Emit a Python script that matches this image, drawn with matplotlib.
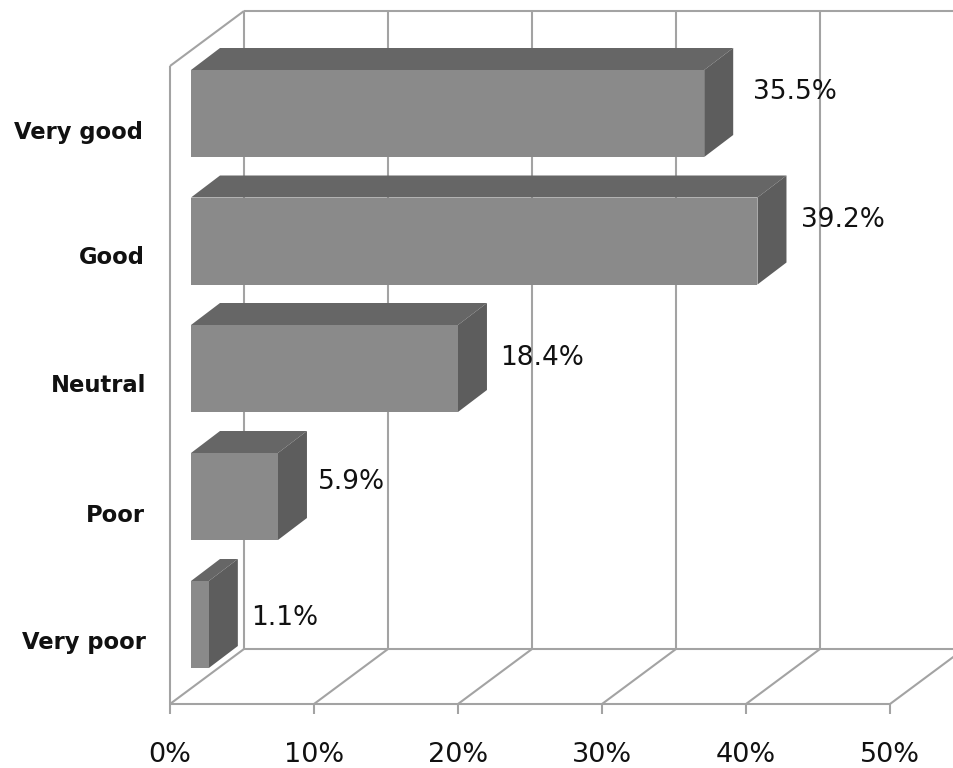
import matplotlib.pyplot as plt
from matplotlib.patches import Polygon

categories = ["Very good", "Good", "Neutral", "Poor", "Very poor"]
values = [35.5, 39.2, 18.4, 5.9, 1.1]
value_labels = ["35.5%", "39.2%", "18.4%", "5.9%", "1.1%"]
ticks = [0, 10, 20, 30, 40, 50]
tick_labels = ["0%", "10%", "20%", "30%", "40%", "50%"]

plt.rcParams['font.family'] = ['DejaVu Sans']

W, H = 954, 768
PX = 14.4            # pixels per percentage point
X0 = 170             # pixel column of 0% on the front floor edge
FLOOR = 704
TOP = 66
WALL_DX = 74 / PX    # depth of the box, in percent units
WALL_DY = 55
BAR_DX = 29 / PX
BAR_DY = 22
BAR_LEFT = 21 / PX
BAR_PAD = 23 / PX
BAR_H = 87
BAR_TOPS = [70, 197.5, 325, 453, 581]

GRID = "#a3a3a3"
FRONT = "#8a8a8a"
UPPER = "#666666"
SIDE = "#5d5d5d"

fig = plt.figure(figsize=(W / 100, H / 100), dpi=100)
ax = fig.add_axes([0, 0, 1, 1])
ax.set_xlim(-X0 / PX, (W - X0) / PX)
ax.set_ylim(H, 0)
ax.axis("off")

lw = 1.5
line = dict(color=GRID, lw=lw, zorder=1, solid_capstyle="butt")

# back wall and floor
for t in ticks:
    ax.plot([t, t + WALL_DX], [FLOOR, FLOOR - WALL_DY], **line)
    ax.plot([t, t], [FLOOR, FLOOR + 10], **line)
    if t < ticks[-1]:
        ax.plot([t + WALL_DX, t + WALL_DX], [FLOOR - WALL_DY, TOP - WALL_DY], **line)
ax.plot([0, ticks[-1]], [FLOOR, FLOOR], **line)
ax.plot([WALL_DX, ticks[-1] + WALL_DX], [FLOOR - WALL_DY, FLOOR - WALL_DY], **line)
ax.plot([WALL_DX, ticks[-1] + WALL_DX], [TOP - WALL_DY, TOP - WALL_DY], **line)
# left wall
ax.plot([0, 0], [FLOOR, TOP], **line)
ax.plot([0, WALL_DX], [TOP, TOP - WALL_DY], **line)

# 3d bars
for v, top in zip(values, BAR_TOPS):
    left = BAR_LEFT
    right = BAR_PAD + v
    bottom = top + BAR_H
    ax.add_patch(Polygon([(left, top), (right, top), (right + BAR_DX, top - BAR_DY),
                          (left + BAR_DX, top - BAR_DY)], fc=UPPER, ec="none", zorder=2))
    ax.add_patch(Polygon([(right, top), (right + BAR_DX, top - BAR_DY),
                          (right + BAR_DX, bottom - BAR_DY), (right, bottom)],
                         fc=SIDE, ec="none", zorder=2))
    ax.add_patch(Polygon([(left, top), (right, top), (right, bottom), (left, bottom)],
                         fc=FRONT, ec="none", zorder=3))

# labels
label_x = [753, 801, 500, 318, 251]
label_y = [92, 220, 358, 482, 618]
for txt, x, y in zip(value_labels, label_x, label_y):
    ax.text((x - X0) / PX, y, txt, fontsize=19, color="#111111", ha="left", va="center", zorder=5)

cat_x = [143, 145, 146, 145, 146]
cat_y = [132, 258, 386, 515, 643]
for txt, x, y in zip(categories, cat_x, cat_y):
    ax.text((x - X0) / PX, y, txt, fontsize=16.3, fontweight="bold", color="#111111",
            ha="right", va="center", zorder=5)

for t, txt in zip(ticks, tick_labels):
    ax.text(t, 755, txt, fontsize=19.5, color="#111111",
            ha="center", va="center", zorder=5)

fig.savefig("out.png", dpi=100)
